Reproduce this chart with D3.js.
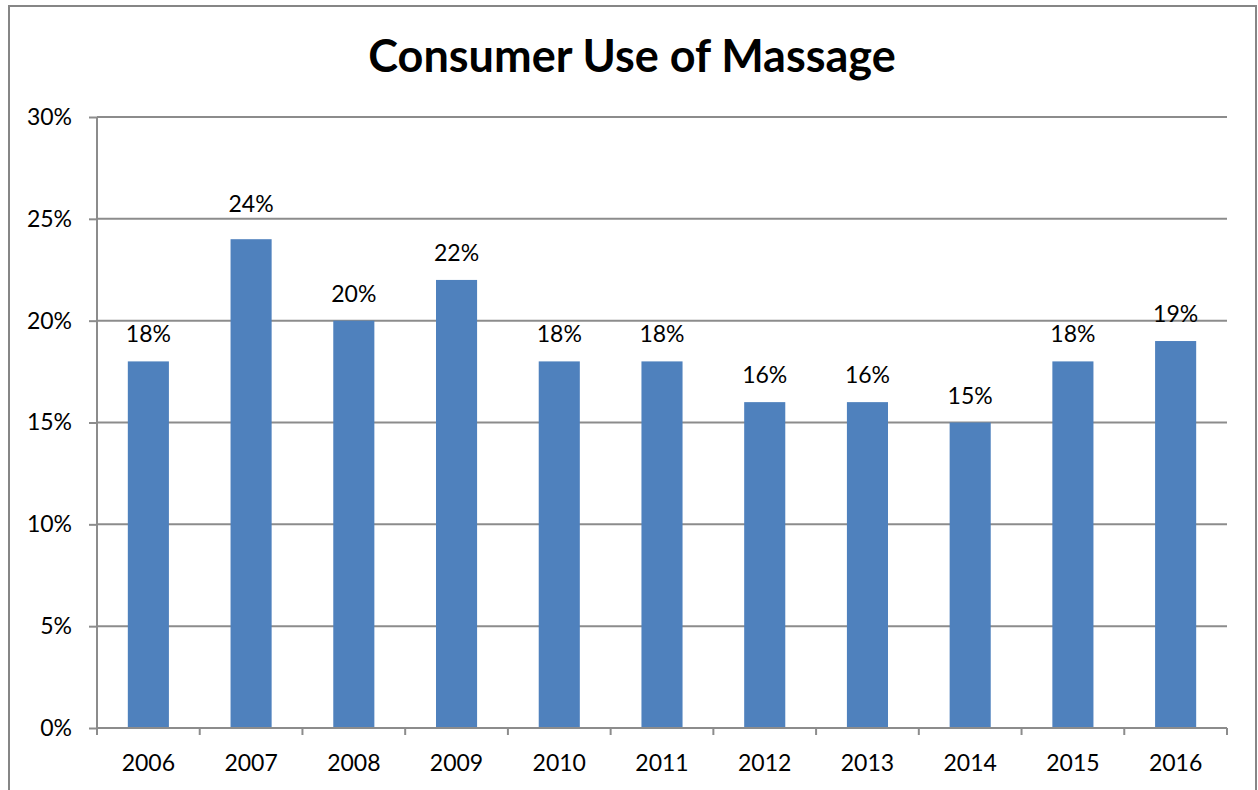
<!DOCTYPE html>
<html>
<head>
<meta charset="utf-8">
<script src="https://cdn.jsdelivr.net/npm/d3@7"></script>
<style>
  html, body { margin: 0; padding: 0; background: #fff; }
  svg { display: block; }
</style>
</head>
<body>
<svg id="chart" width="1258" height="790"></svg>
<script>
// Survey share of consumers who had a massage, by year
const years = ["2006", "2007", "2008", "2009", "2010", "2011", "2012", "2013", "2014", "2015", "2016"];
const usage = [18, 24, 20, 22, 18, 18, 16, 16, 15, 18, 19];
const yTicks = [0, 5, 10, 15, 20, 25, 30];

const svg = d3.select("#chart");
const font = "Lato, 'Open Sans', 'DejaVu Sans', sans-serif";
const labelSize = 23;
const labelGap = 19;
// the 2007 label sits a little higher so it clears the 25% gridline
const labelLift = { "2007": 8 };

// outer chart frame
svg.append("rect")
  .attr("x", 9).attr("y", 6)
  .attr("width", 1247).attr("height", 800)
  .attr("fill", "#fff")
  .attr("stroke", "#868686").attr("stroke-width", 2);

const plot = { left: 97, right: 1227, top: 117, bottom: 728 };

const x = d3.scaleBand()
  .domain(years)
  .range([plot.left, plot.right])
  .paddingInner(0.6)
  .paddingOuter(0.3);

const xBand = d3.scaleBand().domain(years).range([plot.left, plot.right]);

const y = d3.scaleLinear().domain([0, 30]).range([plot.bottom, plot.top]);

// horizontal gridlines
svg.append("g")
  .selectAll("line")
  .data(yTicks.filter(t => t > 0))
  .join("line")
  .attr("x1", plot.left).attr("x2", plot.right)
  .attr("y1", d => y(d)).attr("y2", d => y(d))
  .attr("stroke", "#8c8c8c").attr("stroke-width", 2);

// bars
svg.append("g")
  .selectAll("rect")
  .data(usage)
  .join("rect")
  .attr("x", (d, i) => x(years[i]))
  .attr("y", d => y(d))
  .attr("width", x.bandwidth())
  .attr("height", d => y(0) - y(d))
  .attr("fill", "#4f81bd");

// value labels
svg.append("g")
  .selectAll("text")
  .data(usage)
  .join("text")
  .attr("x", (d, i) => x(years[i]) + x.bandwidth() / 2)
  .attr("y", (d, i) => y(d) - labelGap - (labelLift[years[i]] || 0))
  .attr("text-anchor", "middle")
  .attr("font-family", font)
  .attr("font-size", labelSize)
  .attr("fill", "#000")
  .text(d => d + "%");

// y axis
const yAxis = svg.append("g")
  .attr("transform", `translate(${plot.left},0)`)
  .call(d3.axisLeft(y).tickValues(yTicks).tickSize(8).tickPadding(17).tickFormat(d => d + "%"));
yAxis.select(".domain").attr("stroke", "#8c8c8c").attr("stroke-width", 2).attr("d", `M0,${plot.top}V${plot.bottom}`);
yAxis.selectAll(".tick line").attr("stroke", "#8c8c8c").attr("stroke-width", 2);
yAxis.selectAll(".tick text")
  .attr("font-family", font).attr("font-size", labelSize).attr("fill", "#000");

// x axis with ticks at category boundaries
const xAxisG = svg.append("g");
xAxisG.append("line")
  .attr("x1", plot.left).attr("x2", plot.right)
  .attr("y1", plot.bottom).attr("y2", plot.bottom)
  .attr("stroke", "#8c8c8c").attr("stroke-width", 2);
const boundaries = years.map(d => xBand(d)).concat([plot.right]);
xAxisG.selectAll("line.tick")
  .data(boundaries)
  .join("line")
  .attr("class", "tick")
  .attr("x1", d => d).attr("x2", d => d)
  .attr("y1", plot.bottom).attr("y2", plot.bottom + 7)
  .attr("stroke", "#8c8c8c").attr("stroke-width", 2);
xAxisG.selectAll("text")
  .data(years)
  .join("text")
  .attr("x", d => xBand(d) + xBand.bandwidth() / 2)
  .attr("y", 771)
  .attr("text-anchor", "middle")
  .attr("font-family", font)
  .attr("font-size", labelSize)
  .attr("fill", "#000")
  .text(d => d);

// title
svg.append("text")
  .attr("x", 632)
  .attr("y", 72)
  .attr("text-anchor", "middle")
  .attr("font-family", font)
  .attr("font-weight", "bold")
  .attr("font-size", 45)
  .attr("fill", "#000")
  .text("Consumer Use of Massage");
</script>
</body>
</html>
